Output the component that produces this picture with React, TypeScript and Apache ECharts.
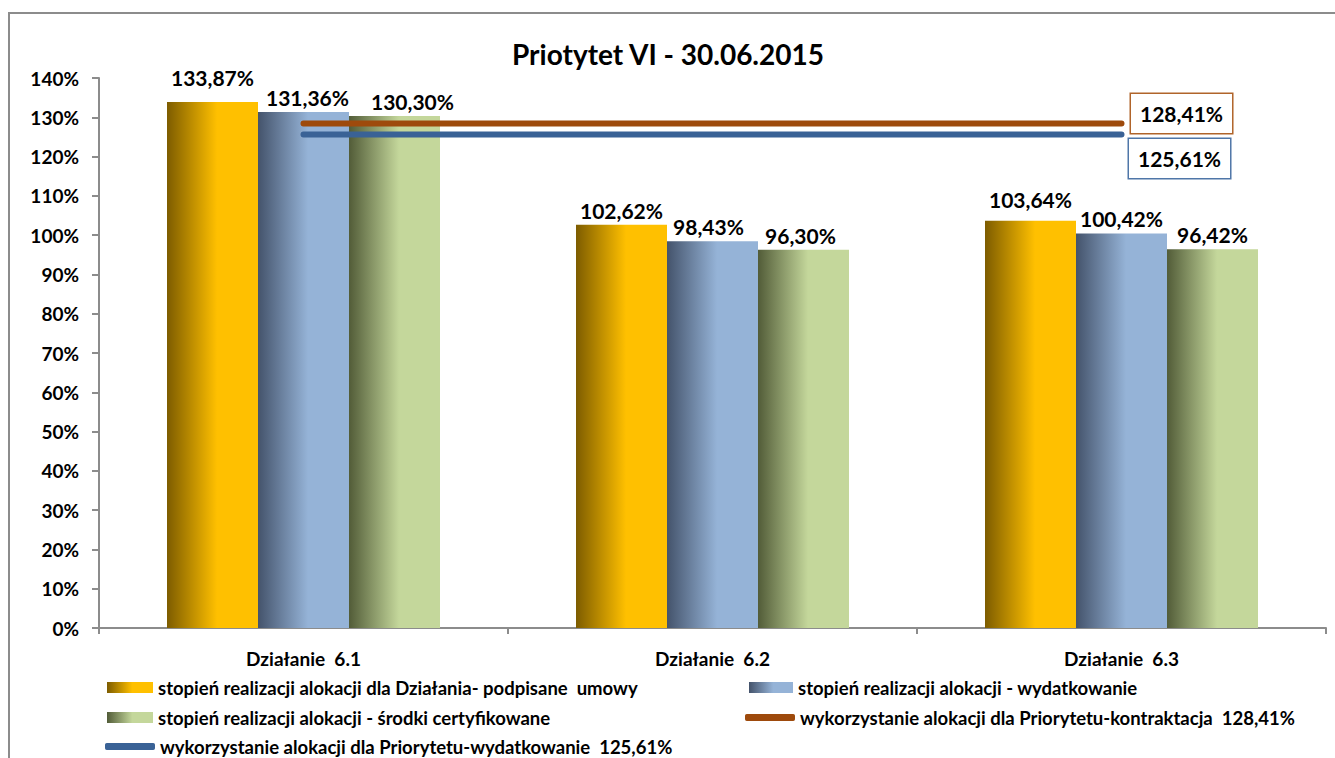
import React, { useEffect, useRef } from "react";
import * as echarts from "echarts";

const categories = ["Działanie  6.1", "Działanie  6.2", "Działanie  6.3"];
const seriesNames = [
  "stopień realizacji alokacji dla Działania- podpisane  umowy",
  "stopień realizacji alokacji - wydatkowanie",
  "stopień realizacji alokacji - środki certyfikowane",
  "wykorzystanie alokacji dla Priorytetu-kontraktacja  128,41%",
  "wykorzystanie alokacji dla Priorytetu-wydatkowanie  125,61%",
];
const contracted = [133.87, 102.62, 103.64];
const spent = [131.36, 98.43, 100.42];
const certified = [130.3, 96.3, 96.42];
const priorityContract = 128.41;
const prioritySpent = 125.61;
const yTicks = { min: 0, max: 140, interval: 10 };

const FONT = "Lato";

const fmt = (v: number) => v.toFixed(2).replace(".", ",") + "%";

const grad = (dark: string, light: string) =>
  new echarts.graphic.LinearGradient(0, 0, 1, 0, [
    { offset: 0, color: dark },
    { offset: 0.55, color: light },
    { offset: 1, color: light },
  ]);

export default function App() {
  const ref = useRef<HTMLDivElement>(null);
  useEffect(() => {
    if (!ref.current) return;
    const chart = echarts.init(ref.current, null, { renderer: "svg" });
    const yellow = grad("#7d5c00", "#FFC000");
    const blue = grad("#44536b", "#95B3D7");
    const green = grad("#525c38", "#C4D79B");
    const labelBase = {
      show: true,
      position: "top",
      distance: 4,
      fontFamily: FONT,
      fontWeight: "bold",
      fontSize: 21,
      color: "#000",
      formatter: (p: any) => fmt(p.value),
    };
    const barData = (arr: number[], offsets: number[][]) =>
      arr.map((v, i) => ({ value: v, label: { offset: offsets[i] } }));
    const lineData = (v: number, color: string, off: number[]) =>
      categories.map((_, i) =>
        i === categories.length - 1
          ? {
              value: v,
              symbol: "circle",
              symbolSize: 1,
              label: {
                show: true,
                position: "right",
                distance: 8,
                offset: off,
                formatter: fmt(v),
                fontFamily: FONT,
                fontWeight: "bold",
                fontSize: 21,
                color: "#000",
                backgroundColor: "#fff",
                borderColor: color,
                borderWidth: 1.5,
                padding: [10, 9, 8, 9],
              },
            }
          : { value: v, symbol: "none" }
      );
    const legendCommon = {
      padding: 0,
      itemGap: 0,
      textStyle: { fontFamily: FONT, fontWeight: "bold", fontSize: 18.5, color: "#000" },
      selectedMode: false,
    };
    chart.setOption({
      animation: false,
      title: {
        text: "Priotytet VI - 30.06.2015",
        left: 663,
        textAlign: "center",
        top: 35,
        textStyle: { fontFamily: FONT, fontWeight: "bold", fontSize: 28, color: "#000" },
      },
      graphic: [
        {
          type: "rect",
          shape: { x: 9, y: 13, width: 1340, height: 800 },
          style: { fill: "none", stroke: "#8c8c8c", lineWidth: 2 },
          silent: true,
        },
      ],
      grid: { left: 99, right: 9, top: 78, bottom: 130 },
      xAxis: {
        type: "category",
        data: categories,
        axisLine: { lineStyle: { color: "#8c8c8c", width: 2 } },
        axisTick: { show: true, length: 6, lineStyle: { color: "#8c8c8c", width: 2 } },
        axisLabel: {
          fontFamily: FONT,
          fontWeight: "bold",
          fontSize: 19,
          color: "#000",
          margin: 21,
        },
      },
      yAxis: {
        type: "value",
        min: yTicks.min,
        max: yTicks.max,
        interval: yTicks.interval,
        splitLine: { show: false },
        axisLine: { show: true, lineStyle: { color: "#8c8c8c", width: 2 } },
        axisTick: { show: true, length: 7, lineStyle: { color: "#8c8c8c", width: 2 } },
        axisLabel: {
          fontFamily: FONT,
          fontWeight: "bold",
          fontSize: 19,
          color: "#000",
          margin: 20,
          formatter: (v: number) => v + "%",
        },
      },
      legend: [
        { ...legendCommon, data: [seriesNames[0]], left: 107, top: 678, icon: "rect", itemWidth: 46, itemHeight: 11 },
        { ...legendCommon, data: [seriesNames[1]], left: 749, top: 678, icon: "rect", itemWidth: 44, itemHeight: 11 },
        { ...legendCommon, data: [seriesNames[2]], left: 107, top: 708, icon: "rect", itemWidth: 46, itemHeight: 11 },
        { ...legendCommon, data: [seriesNames[3]], left: 745, top: 708, icon: "roundRect", itemWidth: 50, itemHeight: 7 },
        { ...legendCommon, data: [seriesNames[4]], left: 105, top: 737, icon: "roundRect", itemWidth: 50, itemHeight: 7 },
      ],
      series: [
        {
          name: seriesNames[0],
          type: "bar",
          barWidth: 91,
          barGap: "0%",
          itemStyle: { color: yellow },
          label: labelBase,
          data: barData(contracted, [[0, -10], [0, 0], [0, -7]]),
        },
        {
          name: seriesNames[1],
          type: "bar",
          barWidth: 91,
          barGap: "0%",
          itemStyle: { color: blue },
          label: labelBase,
          data: barData(spent, [[4, 0], [-4, 0], [0, 0]]),
        },
        {
          name: seriesNames[2],
          type: "bar",
          barWidth: 91,
          barGap: "0%",
          itemStyle: { color: green },
          label: labelBase,
          data: barData(certified, [[18, 0], [-3, 0], [0, 0]]),
        },
        {
          name: seriesNames[3],
          type: "line",
          symbol: "circle",
          symbolSize: 1,
          showSymbol: true,
          color: "#9E4A0C",
          lineStyle: { width: 6, cap: "round", color: "#9E4A0C" },
          itemStyle: { color: "#9E4A0C" },
          z: 5,
          data: lineData(priorityContract, "#B0642A", [1, -10]),
        },
        {
          name: seriesNames[4],
          type: "line",
          symbol: "circle",
          symbolSize: 1,
          showSymbol: true,
          color: "#3A6296",
          lineStyle: { width: 6, cap: "round", color: "#3A6296" },
          itemStyle: { color: "#3A6296" },
          z: 5,
          data: lineData(prioritySpent, "#4F76A8", [-1, 24]),
        },
      ],
    });
    return () => chart.dispose();
  }, []);
  return (
    <div
      ref={ref}
      style={{ position: "fixed", left: 0, top: 0, width: 1335, height: 758, background: "#fff" }}
    />
  );
}
